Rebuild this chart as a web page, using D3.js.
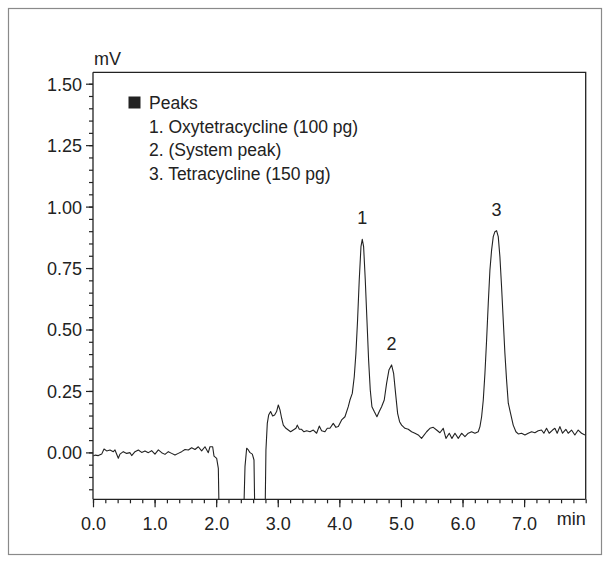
<html lang="en">
    <head>
        <meta charset="utf-8">
        <title>Chromatogram</title>
        <script src="https://d3js.org/d3.v7.min.js"></script>
        <style>
            body { margin: 0; background: #fff; }
            text { font-family: "Liberation Sans", Arial, Helvetica, sans-serif; fill: #222; }
        </style>
    </head>
    <body>
        <div class="chart"></div>

        <script>
            /* retention time (min) and detector signal (mV) */
            var times = [
                0.005, 0.032, 0.087, 0.141, 0.179, 0.222, 0.276, 0.330, 0.357, 0.411,
                0.438, 0.492, 0.547, 0.601, 0.628, 0.682, 0.736, 0.790, 0.844, 0.898,
                0.952, 1.006, 1.061, 1.115, 1.169, 1.223, 1.277, 1.331, 1.385, 1.439,
                1.494, 1.548, 1.602, 1.656, 1.710, 1.764, 1.818, 1.872, 1.899, 1.943,
                1.965, 2.008, 2.035, 2.051, 2.442, 2.468, 2.495, 2.522, 2.549, 2.587,
                2.614, 2.630, 2.792, 2.808, 2.830, 2.852, 2.884, 2.917, 2.949, 2.981,
                3.009, 3.036, 3.063, 3.090, 3.133, 3.171, 3.209, 3.252, 3.295, 3.317,
                3.350, 3.387, 3.425, 3.469, 3.523, 3.577, 3.631, 3.674, 3.712, 3.766,
                3.804, 3.847, 3.901, 3.945, 3.983, 4.037, 4.091, 4.145, 4.172, 4.210,
                4.242, 4.269, 4.296, 4.323, 4.351, 4.372, 4.394, 4.421, 4.448, 4.475,
                4.502, 4.529, 4.567, 4.610, 4.648, 4.686, 4.729, 4.767, 4.805, 4.848,
                4.881, 4.913, 4.946, 4.978, 5.011, 5.065, 5.119, 5.173, 5.227, 5.281,
                5.335, 5.417, 5.471, 5.525, 5.579, 5.633, 5.687, 5.731, 5.785, 5.828,
                5.877, 5.931, 5.985, 6.039, 6.093, 6.147, 6.201, 6.255, 6.283, 6.310,
                6.337, 6.364, 6.391, 6.418, 6.445, 6.472, 6.499, 6.526, 6.553, 6.580,
                6.607, 6.634, 6.661, 6.688, 6.715, 6.743, 6.780, 6.823, 6.867, 6.905,
                6.959, 7.013, 7.067, 7.121, 7.175, 7.229, 7.283, 7.321, 7.364, 7.407,
                7.462, 7.500, 7.537, 7.581, 7.624, 7.678, 7.716, 7.770, 7.824, 7.878,
                7.933, 7.987
            ];
            var signal = [
                -0.015, -0.011, -0.013, -0.007, 0.014, 0.006, 0.010, 0.003, 0.010, -0.024,
                -0.007, 0.003, -0.004, -0.001, -0.013, 0.003, 0.010, 0.000, 0.006, -0.001,
                0.007, -0.007, 0.010, -0.001, -0.008, 0.003, -0.004, -0.011, -0.004, 0.003,
                0.012, 0.010, 0.019, 0.012, 0.023, 0.006, 0.023, -0.001, 0.023, 0.023,
                -0.015, -0.024, -0.065, -0.300, -0.300, -0.058, 0.017, 0.010, -0.001, -0.007,
                -0.031, -0.300, -0.300, 0.010, 0.118, 0.152, 0.166, 0.148, 0.152, 0.166,
                0.193, 0.173, 0.139, 0.111, 0.098, 0.091, 0.084, 0.091, 0.098, 0.111,
                0.094, 0.094, 0.084, 0.088, 0.084, 0.091, 0.078, 0.107, 0.088, 0.084,
                0.098, 0.098, 0.118, 0.102, 0.105, 0.132, 0.145, 0.186, 0.213, 0.240,
                0.308, 0.403, 0.539, 0.701, 0.837, 0.867, 0.837, 0.701, 0.539, 0.376,
                0.254, 0.186, 0.166, 0.145, 0.166, 0.186, 0.213, 0.281, 0.335, 0.356,
                0.322, 0.240, 0.159, 0.125, 0.111, 0.098, 0.094, 0.084, 0.078, 0.071,
                0.057, 0.084, 0.098, 0.102, 0.091, 0.080, 0.098, 0.057, 0.078, 0.057,
                0.078, 0.057, 0.078, 0.064, 0.078, 0.084, 0.078, 0.084, 0.105, 0.145,
                0.213, 0.322, 0.457, 0.607, 0.742, 0.823, 0.878, 0.898, 0.902, 0.878,
                0.796, 0.674, 0.539, 0.403, 0.295, 0.200, 0.159, 0.111, 0.084, 0.075,
                0.078, 0.071, 0.078, 0.084, 0.080, 0.088, 0.091, 0.078, 0.098, 0.078,
                0.091, 0.098, 0.078, 0.105, 0.078, 0.094, 0.078, 0.091, 0.071, 0.091,
                0.078, 0.071
            ];

            /* axis ticks */
            var xTicks = [0, 1, 2, 3, 4, 5, 6, 7];
            var xMinor = d3.range(0, 8.01, 0.2);
            var yTicks = [0, 0.25, 0.5, 0.75, 1.0, 1.25, 1.5];
            var yMinor = d3.range(-0.15, 1.5401, 0.05);

            /* peak annotations */
            var peakNames = ["1", "2", "3"];
            var peakTimes = [4.372, 4.848, 6.553];
            var peakHeights = [0.867, 0.356, 0.902];

            /* legend */
            var legendTitle = "Peaks";
            var legendItems = [
                "1. Oxytetracycline (100 pg)",
                "2. (System peak)",
                "3. Tetracycline (150 pg)"
            ];

            const width = 610;
            const height = 563;
            const svg = d3.select('.chart')
                .append('svg')
                .attr('width', width)
                .attr('height', height);

            /* outer frame */
            svg.append('rect')
                .attr('x', 8.5).attr('y', 8.5)
                .attr('width', 593).attr('height', 546)
                .attr('fill', 'none')
                .attr('stroke', '#8a8a8a')
                .attr('stroke-width', 1.2);

            const pLeft = 93, pRight = 585.7, pTop = 72.3, pBottom = 499.3;

            const x = d3.scaleLinear().domain([0, 8]).range([pLeft, pRight]);
            const y = d3.scaleLinear().domain([-0.1908, 1.5464]).range([pBottom, pTop]);

            /* plot box (top + right) */
            svg.append('path')
                .attr('d', `M${pLeft},${pTop}H${pRight}V${pBottom}`)
                .attr('fill', 'none')
                .attr('stroke', '#222')
                .attr('stroke-width', 1.3);

            /* y axis */
            svg.append('g')
                .attr('transform', `translate(${pLeft},0)`)
                .call(d3.axisLeft(y).tickValues(yMinor).tickSize(4).tickFormat(''))
                .call(g => g.select('.domain').remove());
            const ya = svg.append('g')
                .attr('transform', `translate(${pLeft},0)`)
                .call(d3.axisLeft(y).tickValues(yTicks).tickSize(7).tickPadding(4).tickFormat(d3.format('.2f')))
                .call(g => g.select('.domain').attr('d', `M0,${pTop}V${pBottom}`));
            ya.selectAll('text').attr('font-size', '18px').attr('dy', '0.36em');

            /* x axis */
            svg.append('g')
                .attr('transform', `translate(0,${pBottom})`)
                .call(d3.axisBottom(x).tickValues(xMinor).tickSize(4).tickFormat(''))
                .call(g => g.select('.domain').remove());
            const xa = svg.append('g')
                .attr('transform', `translate(0,${pBottom})`)
                .call(d3.axisBottom(x).tickValues(xTicks).tickSize(8).tickPadding(6).tickFormat(d3.format('.1f')))
                .call(g => g.select('.domain').attr('d', `M${pLeft},0H${pRight}`));
            xa.selectAll('text').attr('font-size', '18px').attr('dy', '0.95em');

            svg.selectAll('.tick line').attr('stroke', '#222').attr('stroke-width', 1.2);
            svg.selectAll('.domain').attr('stroke', '#222').attr('stroke-width', 1.3);

            /* units */
            svg.append('text')
                .attr('x', 94).attr('y', 65)
                .attr('font-size', '18px')
                .text('mV');
            svg.append('text')
                .attr('x', pRight).attr('y', 525)
                .attr('text-anchor', 'end')
                .attr('font-size', '18px')
                .text('min');

            /* trace, clipped to the plot area */
            svg.append('clipPath').attr('id', 'plotclip')
                .append('rect')
                .attr('x', pLeft).attr('y', pTop)
                .attr('width', pRight - pLeft).attr('height', pBottom - pTop);

            const line = d3.line()
                .x((d, i) => x(times[i]))
                .y(d => y(d));

            svg.append('path')
                .datum(signal)
                .attr('clip-path', 'url(#plotclip)')
                .attr('d', line)
                .attr('fill', 'none')
                .attr('stroke', '#222')
                .attr('stroke-width', 1.1)
                .attr('stroke-linejoin', 'round');

            /* peak numbers */
            svg.selectAll('.peak')
                .data(peakNames)
                .enter()
                .append('text')
                .attr('class', 'peak')
                .attr('x', (d, i) => x(peakTimes[i]))
                .attr('y', (d, i) => y(peakHeights[i]) - 15)
                .attr('text-anchor', 'middle')
                .attr('font-size', '18px')
                .text(d => d);

            /* legend */
            svg.append('rect')
                .attr('x', 128.5).attr('y', 96.5)
                .attr('width', 12).attr('height', 12)
                .attr('fill', '#222');
            svg.append('text')
                .attr('x', 149).attr('y', 109)
                .attr('font-size', '17.5px')
                .text(legendTitle);
            svg.selectAll('.legend-item')
                .data(legendItems)
                .enter()
                .append('text')
                .attr('class', 'legend-item')
                .attr('x', 149)
                .attr('y', (d, i) => 132.5 + i * 23.6)
                .attr('font-size', '17.5px')
                .text(d => d);
        </script>
    </body>
</html>
